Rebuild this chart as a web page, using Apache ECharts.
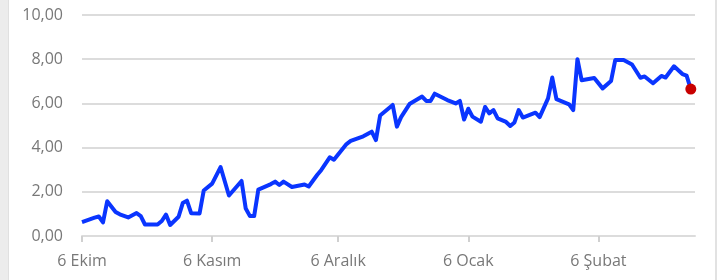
<!DOCTYPE html>
<html>
<head>
<meta charset="utf-8">
<script src="https://cdn.jsdelivr.net/npm/echarts@6/dist/echarts.min.js"></script>
<style>
  html, body { margin: 0; padding: 0; background: #fff; }
  #main { width: 723px; height: 280px; }
</style>
</head>
<body>
<div id="main"></div>
<script>
// days counted from 6 Ekim
const days = [0, 3, 4, 5, 6, 8, 9, 11, 13, 14, 15, 18, 19, 20, 21, 23, 24, 25, 26, 28, 29, 31, 33, 35,
  38, 39, 40, 41, 42, 45, 46, 47, 48, 50, 53, 54, 56, 57, 59, 60, 63, 64, 67, 69, 70, 71, 74, 75, 76, 78,
  81, 82, 83, 84, 87, 89, 90, 91, 92, 93, 95, 96, 97, 98, 99, 101, 102, 103, 104, 105, 108, 109, 111, 112,
  113, 116, 117, 118, 119, 122, 124, 126, 127, 129, 131, 133, 134, 136, 138, 139, 141, 143, 144, 145];
const values = [0.63, 0.83, 0.88, 0.62, 1.57, 1.09, 0.98, 0.84, 1.04, 0.9, 0.52, 0.52, 0.68, 0.97, 0.5, 0.87,
  1.49, 1.6, 1.03, 1.02, 2.06, 2.37, 3.12, 1.83, 2.49, 1.24, 0.9, 0.9, 2.1, 2.35, 2.46, 2.31, 2.46, 2.22,
  2.33, 2.24, 2.76, 2.99, 3.56, 3.45, 4.16, 4.3, 4.51, 4.72, 4.34, 5.45, 5.93, 4.95, 5.38, 5.97, 6.31, 6.11,
  6.11, 6.44, 6.15, 6.0, 6.11, 5.27, 5.76, 5.4, 5.17, 5.84, 5.55, 5.7, 5.32, 5.16, 4.98, 5.14, 5.7, 5.36,
  5.58, 5.38, 6.23, 7.17, 6.19, 5.96, 5.7, 8.0, 7.05, 7.15, 6.68, 7.01, 7.96, 7.96, 7.76, 7.16, 7.22, 6.91,
  7.24, 7.17, 7.68, 7.33, 7.26, 6.65];
const tickDays = [0, 31, 61, 92, 123];
const tickLabels = ['6 Ekim', '6 Kasım', '6 Aralık', '6 Ocak', '6 Şubat'];

const lineData = days.map((d, i) => [d, values[i]]);
const last = lineData[lineData.length - 1];

const myChart = echarts.init(document.getElementById('main'));
const labelColor = '#787878';
const option = {
  animation: false,
  backgroundColor: '#fff',
  textStyle: { fontFamily: 'Open Sans' },
  graphic: [
    { type: 'rect', shape: { x: 0, y: 0, width: 8, height: 280 }, style: { fill: '#ececec' } },
    { type: 'rect', shape: { x: 8, y: 0, width: 1, height: 280 }, style: { fill: '#e0e0e0' } },
    { type: 'rect', shape: { x: 715, y: 0, width: 2, height: 280 }, style: { fill: '#e2e2e2' } }
  ],
  grid: { left: 82, right: 28, top: 15, bottom: 44 },
  xAxis: {
    type: 'value',
    min: 0,
    max: 146,
    splitLine: { show: false },
    axisLine: { show: true, lineStyle: { color: '#dcdcdc', width: 2 } },
    axisTick: { show: true, length: 6, customValues: tickDays, lineStyle: { color: '#d0d0d0', width: 2 } },
    axisLabel: {
      customValues: tickDays,
      color: labelColor,
      fontSize: 16,
      margin: 17,
      formatter: v => tickLabels[tickDays.indexOf(v)]
    }
  },
  yAxis: {
    type: 'value',
    min: 0,
    max: 10,
    interval: 2,
    axisLine: { show: false },
    axisTick: { show: false },
    splitLine: { lineStyle: { color: '#dcdcdc', width: 2 } },
    axisLabel: {
      color: labelColor,
      fontSize: 16,
      margin: 19,
      formatter: v => v.toFixed(2).replace('.', ',')
    }
  },
  series: [
    {
      type: 'line',
      data: lineData,
      showSymbol: false,
      symbol: 'none',
      lineStyle: { color: '#0a35ff', width: 4, join: 'round' }
    },
    {
      type: 'scatter',
      data: [last],
      symbolSize: 11,
      itemStyle: { color: '#c80000', opacity: 1 },
      z: 5
    }
  ]
};
myChart.setOption(option);
</script>
</body>
</html>
